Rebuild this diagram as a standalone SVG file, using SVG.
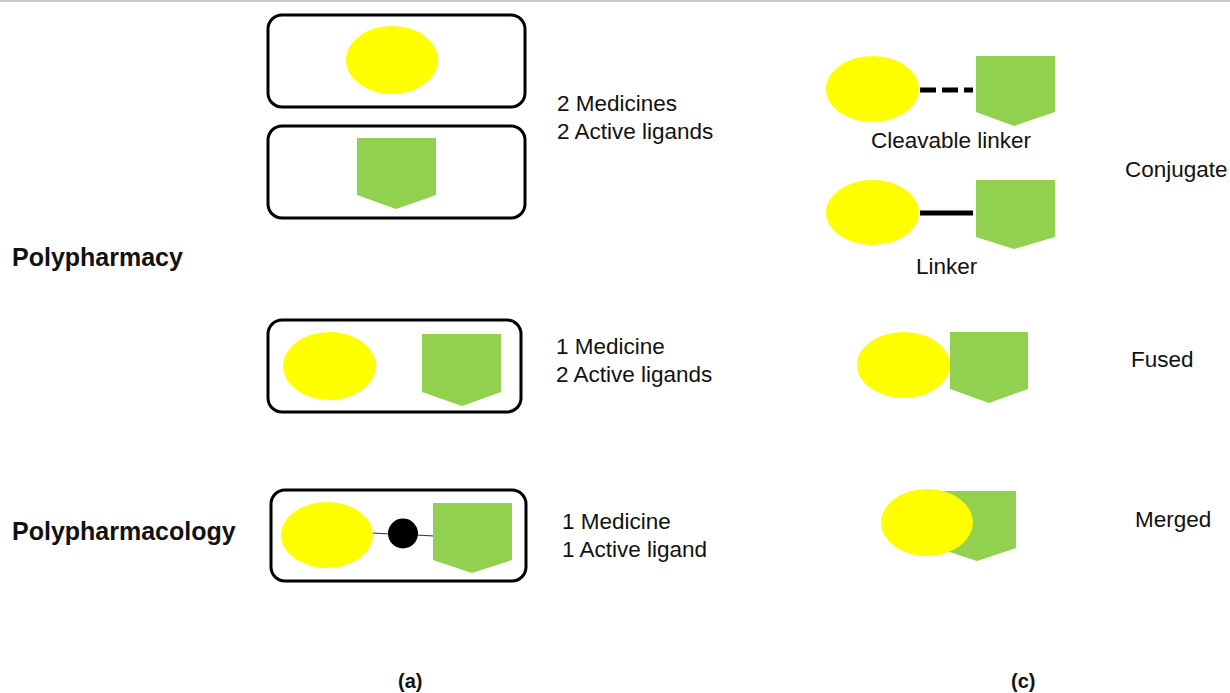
<svg xmlns="http://www.w3.org/2000/svg" width="1230" height="693" viewBox="0 0 1230 693">
<style>
.box{fill:#fff;stroke:#000;stroke-width:3}
.y{fill:#ffff00}
.g{fill:#92d050}
.t{font-family:"Liberation Sans",Arial,Helvetica,sans-serif;font-size:22.5px;fill:#111}
.b{font-family:"Liberation Sans",Arial,Helvetica,sans-serif;font-size:25px;font-weight:bold;fill:#111}
.lab{font-family:"Liberation Sans",Arial,Helvetica,sans-serif;font-size:20px;font-weight:bold;fill:#111}
</style>
<rect x="0" y="0" width="1230" height="693" fill="#fff"/>
<line x1="0" y1="1" x2="1230" y2="1" stroke="#c8c8c8" stroke-width="2"/>

<g id="title-polypharmacy"><text class="b" x="12" y="266">Polypharmacy</text></g>
<g id="title-polypharmacology"><text class="b" x="12" y="540">Polypharmacology</text></g>

<g id="box1">
<rect class="box" x="268" y="15" width="257" height="92" rx="14"/>
<ellipse class="y" cx="392" cy="60" rx="46" ry="34"/>
</g>
<g id="box2">
<rect class="box" x="268" y="126" width="257" height="92" rx="14"/>
<polygon class="g" points="357,138 436,138 436,195 396,209 357,195"/>
</g>
<g id="text1">
<text class="t" x="557" y="111">2 Medicines</text>
<text class="t" x="557" y="139">2 Active ligands</text>
</g>

<g id="box3">
<rect class="box" x="268" y="320" width="253" height="92" rx="14"/>
<ellipse class="y" cx="329.5" cy="366" rx="46.5" ry="34"/>
<polygon class="g" points="422,334 501,334 501,392 462,406 422,392"/>
</g>
<g id="text2">
<text class="t" x="556" y="354">1 Medicine</text>
<text class="t" x="556" y="382">2 Active ligands</text>
</g>

<g id="box4">
<rect class="box" x="271" y="490" width="255" height="91" rx="14"/>
<ellipse class="y" cx="327" cy="535" rx="46" ry="33"/>
<line x1="373" y1="533" x2="390" y2="534" stroke="#333" stroke-width="1.2"/>
<line x1="416" y1="535" x2="434" y2="536" stroke="#333" stroke-width="1.2"/>
<circle cx="403" cy="533.5" r="15" fill="#000"/>
<polygon class="g" points="433,503 512,503 512,560 472,573 433,560"/>
</g>
<g id="text3">
<text class="t" x="562" y="529">1 Medicine</text>
<text class="t" x="562" y="557">1 Active ligand</text>
</g>

<g id="conj-cleavable">
<ellipse class="y" cx="872.5" cy="89" rx="46.5" ry="33"/>
<line x1="920" y1="90" x2="973" y2="90" stroke="#000" stroke-width="5" stroke-dasharray="16 6"/>
<polygon class="g" points="976,56 1055,56 1055,112 1014,126 976,112"/>
<text class="t" x="871" y="148">Cleavable linker</text>
</g>
<g id="conj-linker">
<ellipse class="y" cx="872.5" cy="212.5" rx="46.5" ry="32.5"/>
<line x1="920" y1="213" x2="973" y2="213" stroke="#000" stroke-width="5"/>
<polygon class="g" points="976,180 1055,180 1055,237 1014,249 976,237"/>
<text class="t" x="916" y="274">Linker</text>
</g>
<g id="label-conjugate"><text class="t" x="1125" y="177">Conjugate</text></g>

<g id="fused">
<ellipse class="y" cx="903.5" cy="365" rx="46.5" ry="33"/>
<polygon class="g" points="950,332 1028,332 1028,389 989,403 950,389"/>
</g>
<g id="label-fused"><text class="t" x="1131" y="367">Fused</text></g>

<g id="merged">
<polygon class="g" points="937,491 1016,491 1016,548 977,561 937,548"/>
<ellipse class="y" cx="927" cy="522.5" rx="46" ry="33.5"/>
</g>
<g id="label-merged"><text class="t" x="1135" y="527">Merged</text></g>

<g id="label-a"><text class="lab" x="398" y="688">(a)</text></g>
<g id="label-c"><text class="lab" x="1011" y="688">(c)</text></g>
<g id="connectors"></g>
</svg>
